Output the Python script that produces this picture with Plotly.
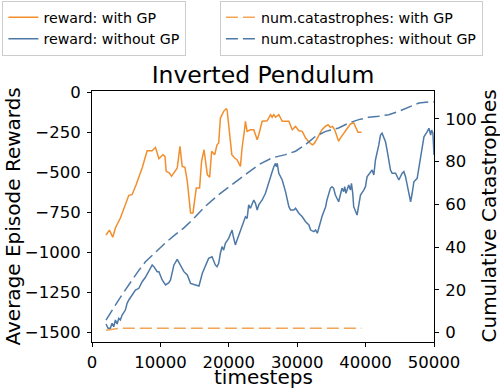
import plotly.graph_objects as go

# ---- data ----
gp_x = [2050, 2540, 3040, 3420, 4150, 4880, 5380, 5860, 6450, 7330, 8060, 8800, 9280, 9780, 10370, 10660,
        10850, 11290, 11630, 12460, 12860, 13190, 13590, 13930, 14410, 14760, 15060, 15250, 15730, 16020,
        16380, 16610, 16860, 17200, 17490, 17930, 18280, 18520, 18770, 19250, 19600, 19750, 19980, 20230,
        20440, 20850, 21200, 21700, 21940, 22330, 22430, 22680, 23160, 23650, 23900, 24150, 24380, 24630,
        24880, 25610, 26100, 26340, 26580, 26830, 27310, 27810, 28780, 29280, 29760, 30240, 30740, 31230,
        31710, 32210, 32440, 32690, 33180, 33620, 34110, 34500, 34850, 35180, 35480, 35820, 36060, 36310,
        36800, 37280, 37780, 38260, 38510, 38890, 39390]
gp_reward = [-892, -861, -906, -848, -786, -703, -644, -640, -578, -473, -365, -365, -344, -415, -390, -400,
             -494, -504, -525, -473, -338, -463, -469, -556, -754, -754, -661, -598, -598, -431,
             -359, -421, -515, -531, -369, -390, -328, -317, -161, -119, -103, -109, -203, -306,
             -390, -411, -421, -463, -348, -223, -181, -244, -234, -234, -265, -296, -265, -213,
             -181, -178, -140, -156, -140, -156, -140, -181, -181, -234, -213, -240, -244, -286,
             -311, -328, -323, -306, -265, -234, -213, -203, -219, -213, -234, -275, -306, -286,
             -254, -223, -198, -192, -213, -250, -250]

ng_x = [2050, 2350, 2680, 2930, 3180, 3420, 3670, 3910, 4150, 4400,
        4880, 5130, 5380, 5860, 6350, 6850, 7330, 7810, 8310, 8800,
        9050, 9530, 9780, 10260, 10750, 11240, 11480, 11980, 12460, 12950,
        13440, 13930, 14410, 15140, 15640, 16130, 16570, 17050, 17550, 18030,
        18280, 18520, 18770, 19010, 19250, 19500, 19980, 20230, 20480, 20670,
        20960, 21210, 21700, 22180, 22430, 22680, 22910, 23160, 23410, 23650,
        23900, 24150, 24380, 24880, 25360, 25610, 25850, 26100, 26340, 26580,
        26830, 26970, 27080, 27310, 27810, 28290, 28780, 29030, 29510, 29760,
        30240, 30740, 31230, 31710, 31960, 32440, 32690, 32940, 33180, 33650,
        34160, 34350, 34850, 35080, 35330, 35580, 36060, 36550, 36800, 36940,
        37130, 37530, 37780, 37930, 38120, 38260, 38750, 39000, 39250, 39730,
        39980, 40210, 40710, 40950, 41200, 41440, 41930, 42180, 42410, 42660,
        42910, 43140, 43390, 43640, 43880, 44380, 44860, 45340, 45590, 45840,
        46080, 46430, 46580, 46810, 47060, 47540, 47790, 48040, 48280, 48530,
        49010, 49260, 49510, 49650, 49840, 50000]
ng_reward = [-1448, -1475, -1475, -1444, -1465, -1423, -1448, -1413, -1423, -1392,
             -1361, -1319, -1298, -1267, -1236, -1225, -1184, -1156, -1121, -1079,
             -1090, -1121, -1121, -1173, -1204, -1190, -1173, -1079, -1044, -1079,
             -1121, -1142, -1194, -1204, -1211, -1131, -1090, -1038, -1028, -1079,
             -1090, -1069, -1006, -965, -986, -944, -913, -881, -861, -903,
             -954, -923, -861, -809, -778, -788, -704, -725, -694, -673,
             -694, -736, -704, -673, -631, -600, -559, -528, -496, -465,
             -444, -465, -444, -506, -548, -621, -715, -736, -736, -725,
             -756, -778, -809, -829, -861, -871, -861, -881, -840, -773,
             -715, -673, -600, -590, -600, -642, -684, -600, -621, -590,
             -631, -579, -611, -569, -631, -715, -767, -715, -642, -611,
             -590, -528, -496, -486, -517, -423, -329, -267, -256, -278,
             -309, -361, -413, -486, -506, -506, -548, -506, -496, -528,
             -579, -673, -684, -631, -559, -538, -465, -392, -340, -278,
             -246, -225, -267, -236, -256, -392]

cat_gp_x = [2050, 3000, 4000, 39390]
cat_gp = [1, 1.5, 2, 2]

cat_ng_x = [2050, 2930, 3910, 4880, 5860, 6850, 7810, 9280, 10750, 12170,
            13440, 14660, 16570, 18520, 20480, 22430, 24380, 26340, 28290, 29760,
            31230, 32690, 34160, 36060, 37530, 39000, 40460, 41930, 43390, 44860,
            46330, 47790, 49260, 50000]
cat_ng = [5.8, 10.6, 15.3, 20.0, 24.7, 29.1, 33.1, 37.8, 42.0, 45.8,
          49.0, 52.7, 59.1, 64.6, 69.3, 73.9, 78.6, 81.8, 83.3, 84.9,
          88.0, 91.9, 94.2, 95.8, 98.1, 99.7, 100.8, 101.3, 102.0, 103.6,
          105.5, 107.5, 108.0, 108.0]

x_ticks = [0, 10000, 20000, 30000, 40000, 50000]
y_ticks = [0, -250, -500, -750, -1000, -1250, -1500]
y_ticklabels = ["0", "\u2212250", "\u2212500", "\u2212750", "\u22121000", "\u22121250", "\u22121500"]
y2_ticks = [0, 20, 40, 60, 80, 100]

ORANGE = "#f28e2b"
BLUE = "#4e79a7"
FONT = "DejaVu Sans"

fig = go.Figure()
fig.add_trace(go.Scatter(x=gp_x, y=gp_reward, mode="lines", name="reward: with GP",
                         line=dict(color=ORANGE, width=1.5), legend="legend"))
fig.add_trace(go.Scatter(x=ng_x, y=ng_reward, mode="lines", name="reward: without GP",
                         line=dict(color=BLUE, width=1.5), legend="legend"))
fig.add_trace(go.Scatter(x=cat_gp_x, y=cat_gp, mode="lines", name="num.catastrophes: with GP",
                         line=dict(color=ORANGE, width=1.5, dash="12px,5px"), opacity=0.8,
                         yaxis="y2", legend="legend2"))
fig.add_trace(go.Scatter(x=cat_ng_x, y=cat_ng, mode="lines", name="num.catastrophes: without GP",
                         line=dict(color=BLUE, width=1.5, dash="12px,5px"),
                         yaxis="y2", legend="legend2"))

axis_common = dict(showline=True, linecolor="black", linewidth=1, ticks="outside", ticklen=4,
                   tickwidth=1, tickcolor="black", showgrid=False, zeroline=False,
                   automargin=False,
                   tickfont=dict(family=FONT, size=16.5, color="black"))

legend_common = dict(xanchor="left", yanchor="top", bordercolor="#cccccc", borderwidth=1,
                     bgcolor="white", font=dict(family=FONT, size=14.2, color="black"),
                     itemwidth=30, tracegroupgap=0)

fig.update_layout(
    width=500, height=390,
    margin=dict(l=92, r=66, t=91, b=48, autoexpand=False),
    paper_bgcolor="white", plot_bgcolor="white",
    font=dict(family=FONT, size=16, color="black"),
    title=dict(text="Inverted Pendulum", x=0.5, xref="paper", xanchor="center",
               y=1 - 75 / 390, yref="container", yanchor="middle",
               font=dict(family=FONT, size=23.5, color="black")),
    legend=dict(x=-0.262, y=1.36, **legend_common),
    legend2=dict(x=0.374, y=1.36, **legend_common),
    xaxis=dict(range=[0, 50000], tickvals=x_ticks, ticktext=[str(v) for v in x_ticks],
               mirror=True, ticklabelstandoff=1, **axis_common),
    yaxis=dict(range=[-1560.6, 8.1], tickvals=y_ticks, ticktext=y_ticklabels,
               ticklabelstandoff=3, **axis_common),
    yaxis2=dict(range=[-4.45, 113.1], tickvals=y2_ticks, ticktext=[str(v) for v in y2_ticks],
                overlaying="y", side="right", ticklabelstandoff=3, **axis_common),
    showlegend=True,
    annotations=[
        dict(text="timesteps", xref="paper", yref="paper", x=0.5, y=0, xanchor="center",
             yanchor="middle", yshift=-35, showarrow=False,
             font=dict(family=FONT, size=20, color="black")),
        dict(text="Average Episode Rewards", xref="paper", yref="paper", x=0, y=0.5,
             xanchor="center", yanchor="middle", xshift=-80, textangle=-90, showarrow=False,
             font=dict(family=FONT, size=20, color="black")),
        dict(text="Cumulative Catastrophes", xref="paper", yref="paper", x=1, y=0.5,
             xanchor="center", yanchor="middle", xshift=54, textangle=-90, showarrow=False,
             font=dict(family=FONT, size=20, color="black")),
    ],
)

# remove the browser's default 8px page margin so the figure sits at the window's corner
fig.write_html("out.html", config={"displayModeBar": False},
               post_script="document.body.style.margin='0';")
